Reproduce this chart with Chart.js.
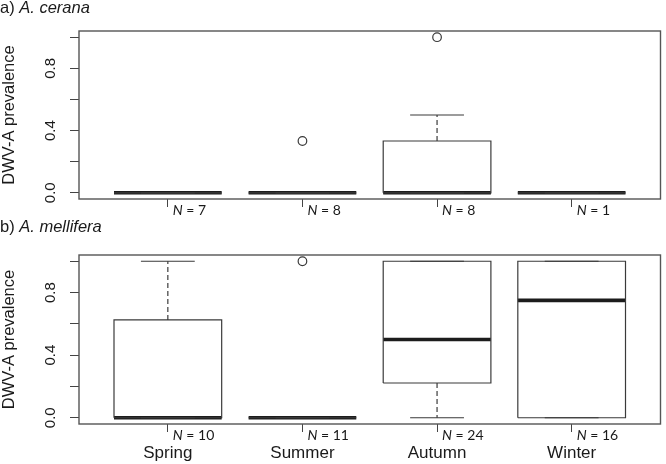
<!DOCTYPE html>
<html><head><meta charset="utf-8">
<script src="https://cdn.jsdelivr.net/npm/chart.js@4.4.0/dist/chart.umd.min.js"></script>
<style>
html,body{margin:0;padding:0;background:#fff;}
#wrap{position:relative;width:666px;height:464px;overflow:hidden;}
.panel{position:absolute;left:0;width:666px;}
canvas{display:block;}
</style></head><body>
<div id="wrap">
<div class="panel" style="top:0;height:216px"><canvas id="ca" width="666" height="216"></canvas></div>
<div class="panel" style="top:216px;height:248px"><canvas id="cb" width="666" height="248"></canvas></div>
</div>
<script>
// ---- data ----
const seasons = ['Spring', 'Summer', 'Autumn', 'Winter'];
const yTicks = [0, 0.2, 0.4, 0.6, 0.8, 1.0];
const yTickLabels = ['0.0', '', '0.4', '', '0.8', ''];

// a) A. cerana
const ceranaN = [7, 8, 8, 1];
const ceranaLowerWhisker = [0, 0, 0, 0];
const ceranaQ1 = [0, 0, 0, 0];
const ceranaMedian = [0, 0, 0, 0];
const ceranaQ3 = [0, 0, 0.333, 0];
const ceranaUpperWhisker = [0, 0, 0.5, 0];
const ceranaOutliers = [[], [0.333], [1.0], []];

// b) A. mellifera
const melliferaN = [10, 11, 24, 16];
const melliferaLowerWhisker = [0, 0, 0, 0];
const melliferaQ1 = [0, 0, 0.222, 0];
const melliferaMedian = [0, 0, 0.5, 0.75];
const melliferaQ3 = [0.625, 0, 1.0, 1.0];
const melliferaUpperWhisker = [1.0, 0, 1.0, 1.0];
const melliferaOutliers = [[], [1.0], [], []];

// ---- styles ----
const HALF_BOX = 0.4, HALF_CAP = 0.2;
const LINE = '#3a3a3a';
const FONT = '"Liberation Sans", Arial, sans-serif';

function segs(list) { // list of [x1,y1,x2,y2]
  const out = [];
  list.forEach(s => { out.push({x: s[0], y: s[1]}, {x: s[2], y: s[3]}, {x: s[2], y: null}); });
  return out;
}

function buildDatasets(lo, q1, med, q3, hi, outl) {
  const boxes = [], medians = [], whisk = [], caps = [], pts = [];
  seasons.forEach((s, i) => {
    const c = i + 1, l = c - HALF_BOX, r = c + HALF_BOX;
    boxes.push({x: l, y: q1[i]}, {x: r, y: q1[i]}, {x: r, y: q3[i]}, {x: l, y: q3[i]}, {x: l, y: q1[i]}, {x: l, y: null});
    medians.push([l, med[i], r, med[i]]);
    whisk.push([c, q3[i], c, hi[i]], [c, q1[i], c, lo[i]]);
    caps.push([c - HALF_CAP, hi[i], c + HALF_CAP, hi[i]], [c - HALF_CAP, lo[i], c + HALF_CAP, lo[i]]);
    outl[i].forEach(v => pts.push({x: c, y: v}));
  });
  const base = {type: 'line', pointRadius: 0, tension: 0, spanGaps: false, fill: false, borderCapStyle: 'butt'};
  return [
    Object.assign({}, base, {label: 'whiskers', data: segs(whisk), borderColor: LINE, borderWidth: 1.2, borderDash: [5, 3]}),
    Object.assign({}, base, {label: 'caps', data: segs(caps), borderColor: LINE, borderWidth: 1.2}),
    Object.assign({}, base, {label: 'boxes', data: boxes, borderColor: LINE, borderWidth: 1.2, borderJoinStyle: 'miter'}),
    Object.assign({}, base, {label: 'medians', data: segs(medians), borderColor: '#1c1c1c', borderWidth: 3.6}),
    {type: 'scatter', label: 'outliers', data: pts, pointRadius: 4.3, pointBorderWidth: 1.2,
     pointBorderColor: LINE, pointBackgroundColor: 'rgba(255,255,255,0)', showLine: false}
  ];
}

const framePlugin = {
  id: 'frame',
  afterDatasetsDraw(chart) {
    const a = chart.chartArea, ctx = chart.ctx;
    ctx.save();
    ctx.strokeStyle = '#555';
    ctx.lineWidth = 1.4;
    ctx.strokeRect(a.left, a.top, a.right - a.left, a.bottom - a.top);
    ctx.restore();
  }
};

function makeTextPlugin(prefix, italicPart, titleY, nList, nDy) {
  return {
    id: 'texts',
    afterDraw(chart) {
      const ctx = chart.ctx;
      ctx.save();
      ctx.fillStyle = '#1a1a1a';
      ctx.textBaseline = 'alphabetic';
      ctx.textAlign = 'left';
      ctx.font = '16.5px ' + FONT;
      ctx.fillText(prefix, 0, titleY);
      const w = ctx.measureText(prefix).width;
      ctx.font = 'italic 16.5px ' + FONT;
      ctx.fillText(italicPart, w, titleY);
      // N labels
      const xs = chart.scales.x, yb = chart.chartArea.bottom;
      ctx.textBaseline = 'middle';
      nList.forEach((n, i) => {
        const x = xs.getPixelForValue(i + 1) + 5;
        ctx.font = 'italic 14px Lato, "Open Sans", sans-serif';
        ctx.fillText('N', x, yb + nDy);
        const wn = ctx.measureText('N').width;
        ctx.font = '14px Lato, "Open Sans", sans-serif';
        ctx.fillText(' = ' + n, x + wn, yb + nDy);
      });
      ctx.restore();
    }
  };
}

function zeroPad(s) { s.paddingTop = 0; s.paddingBottom = 0; s.paddingLeft = 0; s.paddingRight = 0; }

function makeOptions(top, xHeight, showCats) {
  return {
    responsive: false,
    animation: false,
    events: [],
    layout: {padding: {top: top, right: 1, left: 0, bottom: 0}},
    plugins: {legend: {display: false}, tooltip: {enabled: false}, title: {display: false}},
    scales: {
      x: {
        type: 'linear', min: 0.34, max: 4.66,
        afterBuildTicks(s) { s.ticks = seasons.map((c, i) => ({value: i + 1})); },
        afterFit(s) { s.height = xHeight; zeroPad(s); },
        border: {display: false},
        grid: {display: true, drawOnChartArea: false, drawTicks: true, tickLength: 8, color: '#444', lineWidth: 1},
        ticks: {
          autoSkip: false, maxRotation: 0, minRotation: 0, padding: 11,
          color: '#1a1a1a', font: {family: FONT, size: 17},
          callback: (v) => showCats ? seasons[Math.round(v) - 1] : ''
        }
      },
      y: {
        type: 'linear', min: -0.04, max: 1.04,
        afterBuildTicks(s) { s.ticks = yTicks.map(v => ({value: v})); },
        afterFit(s) { s.width = 79; zeroPad(s); },
        border: {display: false},
        grid: {display: true, drawOnChartArea: false, drawTicks: true, tickLength: 9, color: '#444', lineWidth: 1},
        ticks: {
          autoSkip: false, minRotation: 90, maxRotation: 90, crossAlign: 'center', padding: 8.5,
          color: '#1a1a1a', font: {family: FONT, size: 15},
          callback: (v) => { const k = yTicks.findIndex(t => Math.abs(t - v) < 1e-9); return k >= 0 ? yTickLabels[k] : ''; }
        },
        title: {display: true, text: 'DWV-A prevalence', color: '#1a1a1a', font: {family: FONT, size: 16.5}, padding: {top: 0, bottom: 0}}
      }
    }
  };
}

new Chart(document.getElementById('ca'), {
  type: 'line',
  data: {datasets: buildDatasets(ceranaLowerWhisker, ceranaQ1, ceranaMedian, ceranaQ3, ceranaUpperWhisker, ceranaOutliers)},
  options: makeOptions(31, 17, false),
  plugins: [framePlugin, makeTextPlugin('a) ', 'A. cerana', 13, ceranaN, 11)]
});

new Chart(document.getElementById('cb'), {
  type: 'line',
  data: {datasets: buildDatasets(melliferaLowerWhisker, melliferaQ1, melliferaMedian, melliferaQ3, melliferaUpperWhisker, melliferaOutliers)},
  options: makeOptions(39, 40, true),
  plugins: [framePlugin, makeTextPlugin('b) ', 'A. mellifera', 16, melliferaN, 11)]
});
</script>
</body></html>
